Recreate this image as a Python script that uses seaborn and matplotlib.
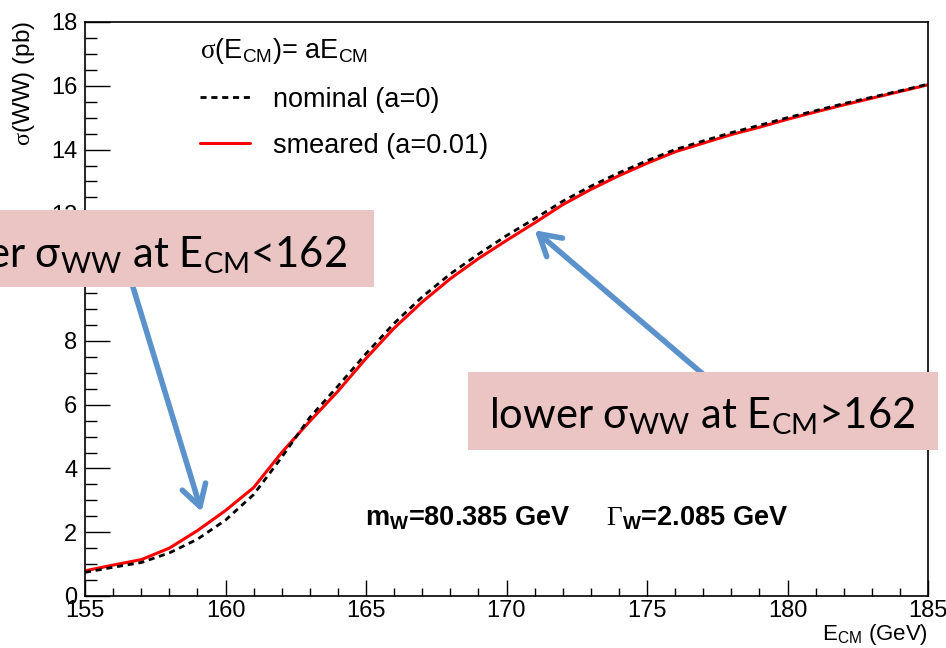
import numpy as np
import pandas as pd
import matplotlib.pyplot as plt
import seaborn as sns
from matplotlib.patches import Rectangle
from matplotlib.ticker import MultipleLocator

# centre-of-mass energy (GeV)
e_cm = [155, 156, 157, 158, 159, 160, 161, 162, 163, 164, 165, 166, 167, 168, 169, 170,
        171, 172, 173, 174, 175, 176, 177, 178, 179, 180, 181, 182, 183, 184, 185]
# sigma(WW) in pb, nominal (a=0)
sigma_nominal = [0.74, 0.90, 1.05, 1.35, 1.78, 2.38, 3.18, 4.35, 5.60, 6.58, 7.60, 8.55,
                 9.38, 10.10, 10.72, 11.30, 11.83, 12.38, 12.85, 13.27, 13.65, 14.00,
                 14.27, 14.53, 14.76, 15.00, 15.22, 15.44, 15.64, 15.84, 16.05]
# sigma(WW) in pb, smeared (a=0.01)
sigma_smeared = [0.79, 0.97, 1.14, 1.50, 2.05, 2.68, 3.40, 4.50, 5.48, 6.42, 7.45, 8.40,
                 9.22, 9.95, 10.58, 11.15, 11.70, 12.27, 12.75, 13.18, 13.57, 13.93,
                 14.20, 14.47, 14.70, 14.95, 15.18, 15.40, 15.61, 15.82, 16.03]

x_ticks = [155, 160, 165, 170, 175, 180, 185]
y_ticks = [0, 2, 4, 6, 8, 10, 12, 14, 16, 18]

df = pd.DataFrame({"E": e_cm, "nominal": sigma_nominal, "smeared": sigma_smeared})

sns.set_style("ticks")
plt.rcParams['font.family'] = ['Liberation Sans', 'DejaVu Sans']
plt.rcParams.update({
    'text.color': 'black',
    'axes.labelcolor': 'black',
    'xtick.color': 'black',
    'ytick.color': 'black',
    'mathtext.fontset': 'custom',
    'mathtext.rm': 'Liberation Sans',
    'mathtext.sf': 'Lato',
    'mathtext.bf': 'Liberation Sans:bold',
    'mathtext.tt': 'Liberation Serif',
    'mathtext.it': 'Liberation Sans:italic',
})

fig = plt.figure(figsize=(9.46, 6.48), dpi=100)
ax = fig.add_axes([85 / 946, 52 / 648, 843 / 946, 574 / 648])

sns.lineplot(data=df, x="E", y="smeared", ax=ax, color="red", lw=2.2,
             label="smeared (a=0.01)")
sns.lineplot(data=df, x="E", y="nominal", ax=ax, color="black", lw=2.0,
             dashes=(2.2, 1.7), label="nominal (a=0)")

ax.set_xlim(155, 185)
ax.set_ylim(0, 18)
ax.set_xticks(x_ticks)
ax.set_yticks(y_ticks)
ax.xaxis.set_minor_locator(MultipleLocator(1))
ax.yaxis.set_minor_locator(MultipleLocator(0.5))
ax.tick_params(which='both', direction='in', width=1.0, colors='black', labelsize=17,
               top=False, right=False)
ax.tick_params(axis='y', which='major', length=18, pad=5.5)
ax.tick_params(axis='y', which='minor', length=8.6)
ax.tick_params(axis='x', which='major', length=11.5, pad=3)
ax.tick_params(axis='x', which='minor', length=5.8)
for s in ax.spines.values():
    s.set_linewidth(1.2)
    s.set_color('black')

ax.set_xlabel(r"E$_\mathrm{CM}$ (GeV)", fontsize=16, loc='right')
ax.xaxis.set_label_coords(1.0, -0.045)
ax.set_ylabel(r"$\mathtt{\sigma}$(WW) (pb)", fontsize=17.5, loc='top')
ax.yaxis.set_label_coords(-0.057, 1.003)

# legend (reorder: nominal first)
h, l = ax.get_legend_handles_labels()
leg = ax.legend([h[1], h[0]], [l[1], l[0]], title=r"$\mathtt{\sigma}$(E$_\mathrm{CM}$)= aE$_\mathrm{CM}$",
                loc='upper left', bbox_to_anchor=(0.136, 0.975), frameon=False,
                fontsize=19.5, title_fontsize=19.5, alignment='left', borderpad=0,
                borderaxespad=0, handlelength=1.85, handletextpad=0.85, labelspacing=0.75)

fig.text(365 / 946, (648 - 525) / 648,
         r"m$_\mathbf{W}$=80.385 GeV     $\mathtt{\Gamma}_\mathbf{W}$=2.085 GeV",
         fontsize=19.5, fontweight='bold', va='baseline')

# annotation arrows
blue = '#5B92CC'
ax.annotate('', xy=(159.15, 2.64), xytext=(156.6, 10.0),
            arrowprops=dict(arrowstyle='->, head_length=0.6, head_width=0.35',
                            color=blue, lw=4, mutation_scale=25, shrinkA=0, shrinkB=0),
            zorder=4)
ax.annotate('', xy=(171.0, 11.47), xytext=(177.2, 6.8),
            arrowprops=dict(arrowstyle='->, head_length=0.6, head_width=0.35',
                            color=blue, lw=4, mutation_scale=25, shrinkA=0, shrinkB=0),
            zorder=4)

# pink callout boxes
pink = '#EBC4C4'
fig.patches.append(Rectangle((-0.01, (648 - 287) / 648), 383 / 946, 77 / 648,
                             transform=fig.transFigure, facecolor=pink, edgecolor='none',
                             zorder=5))
fig.patches.append(Rectangle((468 / 946, (648 - 450) / 648), 470 / 946, 78 / 648,
                             transform=fig.transFigure, facecolor=pink, edgecolor='none',
                             zorder=5))
fig.text(347 / 946, (648 - 267) / 648, r"higher σ$_\mathsf{WW}$ at E$_\mathsf{CM}$<162",
         family='Lato', fontsize=30, ha='right', va='baseline', zorder=6)
fig.text(489 / 946, (648 - 428) / 648, r"lower σ$_\mathsf{WW}$ at E$_\mathsf{CM}$>162",
         family='Lato', fontsize=30, ha='left', va='baseline', zorder=6)

fig.savefig("out.png", dpi=100)
